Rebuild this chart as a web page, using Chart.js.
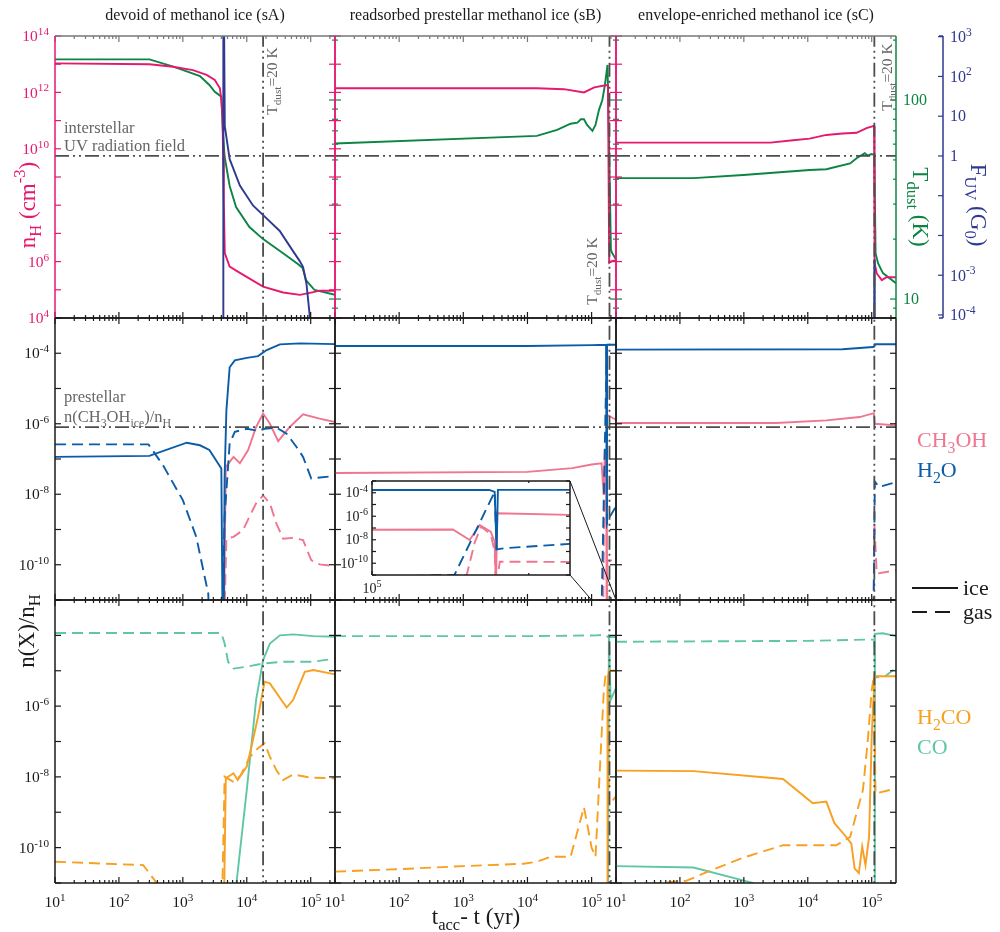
<!DOCTYPE html>
<html>
<head>
<meta charset="utf-8">
<script src="https://cdn.jsdelivr.net/npm/chart.js@4.4.0/dist/chart.umd.min.js"></script>
<style>
  body { margin: 0; background: #fff; width: 1000px; height: 932px; position: relative; overflow: hidden; }
  canvas { position: absolute; left: 0; top: 0; }
</style>
</head>
<body>
<script>
// ---- data: [t_acc - t (yr), value] ----
const T_MIN = 10, T_MAX = 2.4e5;
const tDust20 = [1.8e4, 1.9e5, 1.1e5];   // where T_dust = 20 K, per column
const fuvISRF = 1;                       // interstellar UV field (G0)
const ch3ohPrestellar = 8e-7;            // prestellar n(CH3OH_ice)/n_H

// sA - devoid of methanol ice
const sA_nH = [[10,1.07e13],[300,1e13],[700,8.1e12],[1440,6.2e12],[2350,4.2e12],[3160,2.75e12],[3800,1.4e12],[4000,5.5e11],[4170,1.4e11],[4250,9e9],[4370,1.5e8],[4530,2e6],[5400,6.6e5],[7800,4e5],[1.8e4,1.3e5],[3.7e4,8e4],[6.8e4,6.6e4],[1.1e5,8.3e4],[1.38e5,9.3e4],[2.4e5,9.3e4]];
const sA_T = [[10,160],[300,160],[710,147],[1850,132],[2600,119],[3160,110],[4000,104],[4250,68],[4500,52],[5400,37],[6800,29],[1.1e4,23],[1.8e4,20],[3.7e4,17],[6.3e4,15],[7.5e4,14.3],[8.5e4,12.4],[1.15e5,11.1],[2.4e5,10.5]];
const sA_F = [[10,1e-8],[4280,1e-8],[4300,1e6],[4530,5.6],[5400,0.83],[7800,0.18],[1.25e4,0.057],[2.04e4,0.027],[3.28e4,0.013],[5.26e4,0.0041],[6.7e4,0.0023],[7.6e4,0.0016],[8.6e4,6e-4],[9.6e4,1.07e-4],[1.05e5,1e-5],[2.4e5,1e-8]];
const sA_H2O_ice = [[10,1.15e-7],[300,1.23e-7],[1150,2.9e-7],[1850,2.45e-7],[2600,1.8e-7],[4000,5.4e-8],[4200,1e-12],[4350,1e-12],[4500,3e-8],[4800,2.4e-6],[5400,4e-5],[6500,6.3e-5],[1e4,7.4e-5],[1.5e4,8.3e-5],[2.05e4,1.23e-4],[3.3e4,1.78e-4],[6.8e4,1.9e-4],[2.4e5,1.82e-4]];
const sA_H2O_gas = [[10,2.6e-7],[290,2.6e-7],[490,6.6e-8],[1000,6.8e-9],[1620,6.2e-10],[2500,1.5e-11],[2700,1e-13],[4100,1e-13],[4170,1e-11],[4500,2.3e-9],[5400,2.75e-7],[6500,5.9e-7],[1e4,7.2e-7],[1.5e4,6.3e-7],[1.9e4,7.2e-7],[2.9e4,7.8e-7],[4.2e4,5.2e-7],[6e4,2.2e-7],[7.6e4,1.15e-7],[1.02e5,2.8e-8],[2.4e5,3.3e-8]];
const sA_CH3OH_ice = [[10,1e-14],[4300,1e-14],[4370,1e-12],[4700,6e-8],[6200,1.15e-7],[7800,7.6e-8],[1.05e4,1.8e-7],[1.4e4,8.1e-7],[1.8e4,1.95e-6],[2.3e4,1e-6],[3.1e4,3.2e-7],[4.7e4,8.1e-7],[7.6e4,1.86e-6],[1.38e5,1.4e-6],[2.4e5,1.12e-6]];
const sA_CH3OH_gas = [[10,1e-14],[4300,1e-14],[4400,1e-12],[4800,5.5e-10],[6200,6.2e-10],[8700,9.5e-10],[1.1e4,2.3e-9],[1.4e4,5.5e-9],[1.8e4,9.3e-9],[2.3e4,5.5e-9],[2.9e4,1.5e-9],[3.7e4,5.5e-10],[5.3e4,5.8e-10],[7.6e4,5e-10],[1.02e5,1.35e-10],[1.38e5,1.02e-10],[2.4e5,9.1e-11]];
const sA_CO_ice = [[10,1e-14],[6000,1e-14],[6900,1e-11],[1e4,4.3e-9],[1.4e4,1.5e-6],[1.8e4,2e-5],[2.3e4,5.9e-5],[3.3e4,1e-4],[5.3e4,1.07e-4],[1.1e5,9.5e-5],[2.4e5,9.1e-5]];
const sA_CO_gas = [[10,1.17e-4],[4000,1.17e-4],[4500,5.9e-5],[5100,1.8e-5],[6200,1.15e-5],[1e4,1.3e-5],[1.8e4,1.6e-5],[3.7e4,1.8e-5],[1.1e5,1.8e-5],[2.4e5,2.2e-5]];
const sA_H2CO_ice = [[10,1e-14],[4300,1e-14],[4370,1e-12],[4700,9.1e-9],[6200,1.26e-8],[7200,8.1e-9],[1e4,1.95e-8],[1.25e4,1.1e-7],[1.5e4,5e-7],[1.9e4,4.9e-6],[2.3e4,4.4e-6],[4.2e4,9.1e-7],[5.3e4,1.48e-6],[8.1e4,9.3e-6],[1.1e5,1.05e-5],[2.4e5,7.9e-6]];
const sA_H2CO_gas = [[10,4e-11],[240,3.2e-11],[390,1e-11],[500,1e-12],[4000,1e-13],[4170,1e-11],[4500,1.02e-8],[6200,7.2e-9],[8000,1.1e-8],[1.1e4,3.5e-8],[1.5e4,6.5e-8],[1.9e4,8.9e-8],[2.3e4,3.7e-8],[2.9e4,1.55e-8],[3.7e4,8.1e-9],[5.3e4,1.17e-8],[1e5,9.5e-9],[2.4e5,9.1e-9]];

// sB - readsorbed prestellar methanol ice
const sB_nH = [[10,1.4e12],[1.4e4,1.4e12],[3.7e4,1.3e12],[7.6e4,1.0e12],[1.1e5,1.5e12],[1.66e5,1.8e12],[1.8e5,1.8e12],[1.88e5,9e5],[2.1e5,1.05e6],[2.4e5,1.1e6]];
const sB_T = [[10,60.5],[1.4e4,66],[2.9e4,70.7],[4.7e4,76],[6e4,77],[6.8e4,80],[7.6e4,80],[8.5e4,75],[1.03e5,70],[1.15e5,75],[1.3e5,89],[1.47e5,100],[1.6e5,117],[1.77e5,150],[1.9e5,46],[2e5,17.6],[2.1e5,17],[2.4e5,15.8]];
const sB_H2O_ice = [[10,1.6e-4],[1e4,1.6e-4],[1e5,1.7e-4],[1.68e5,1.75e-4],[1.72e5,1.2e-4],[1.735e5,1.4e-9],[1.745e5,1.75e-4],[2.4e5,1.75e-4]];
const sB_H2O_gas = [[10,1e-15],[1.44e5,1e-11],[1.72e5,1.2e-4],[1.735e5,1.5e-9],[1.8e5,1.9e-9],[2.4e5,4.5e-9]];
const sB_CH3OH_ice = [[10,4e-8],[1e4,4.3e-8],[5e4,5.5e-8],[1e5,7e-8],[1.43e5,7.5e-8],[1.54e5,9.5e-9],[1.61e5,1.8e-7],[1.69e5,5e-8],[1.72e5,6.8e-9],[1.73e5,1e-12],[1.74e5,1.8e-6],[2.4e5,1.3e-6]];
const sB_CH3OH_gas = [[10,1e-15],[1.52e5,1e-11],[1.575e5,6e-9],[1.62e5,1.3e-7],[1.69e5,3e-8],[1.72e5,1e-9],[1.73e5,1e-12],[1.76e5,1.35e-10],[2.4e5,1.3e-10]];
const sB_CO_ice = [[10,1e-15],[1.8e5,1e-12],[1.86e5,1.1e-4],[1.98e5,1.5e-6],[2.4e5,3.2e-6]];
const sB_CO_gas = [[10,9.5e-5],[1e4,9.5e-5],[1.2e5,1e-4],[1.6e5,1.05e-4],[1.8e5,9e-5],[2.4e5,9e-5]];
const sB_H2CO_ice = [[10,1e-15],[1.74e5,1e-12],[1.77e5,3.9e-6],[1.85e5,1e-5],[2.4e5,1e-5]];
const sB_H2CO_gas = [[10,2.1e-11],[92,2.45e-11],[1e3,3e-11],[8.7e3,3.5e-11],[1.4e4,4e-11],[2.3e4,5.5e-11],[4.7e4,5.5e-11],[7.6e4,1.4e-9],[1e5,1e-10],[1.15e5,5.5e-11],[1.55e5,2.8e-6],[1.66e5,8.3e-6],[1.8e5,8.5e-6],[1.86e5,1.6e-9],[2.4e5,2.8e-9]];

// sC - envelope-enriched methanol ice
const sC_nH = [[10,1.66e10],[2.6e3,1.66e10],[5.9e3,2e10],[1.07e4,2.3e10],[1.95e4,3.1e10],[3.5e4,3.5e10],[5.8e4,3.7e10],[8.3e4,5.4e10],[1.09e5,6.5e10],[1.11e5,8.7e5],[1.2e5,3.8e5],[1.44e5,2.2e5],[1.7e5,2.8e5],[2.4e5,2.8e5]];
const sC_T = [[10,40.5],[163,40.5],[980,42],[1.07e4,44.5],[1.95e4,44.9],[4.6e4,48],[5.8e4,51],[7.8e4,54],[8.7e4,52.5],[9.9e4,53.5],[1.1e5,53],[1.15e5,17],[1.26e5,15.1],[1.5e5,13.5],[2.4e5,12]];
const sC_F = [[10,1e-8],[1.08e5,1e-8],[1.1e5,2.5e-3],[1.115e5,1e-8],[2.4e5,1e-8]];
const sC_H2O_ice = [[10,1.27e-4],[3.5e4,1.3e-4],[1.05e5,1.5e-4],[1.1e5,1.55e-4],[1.13e5,1.8e-4],[2.4e5,1.8e-4]];
const sC_H2O_gas = [[10,1e-15],[1.06e5,1e-12],[1.12e5,2.3e-8],[1.3e5,1.6e-8],[2.4e5,2.2e-8]];
const sC_CH3OH_ice = [[10,1.05e-6],[3.2e3,1.05e-6],[1.95e4,1.25e-6],[6.5e4,1.55e-6],[1.08e5,2e-6],[1.12e5,1e-6],[2.4e5,9e-7]];
const sC_CH3OH_gas = [[10,1e-15],[1.06e5,1e-12],[1.1e5,1.5e-9],[1.2e5,5.6e-11],[2.4e5,7e-11]];
const sC_CO_ice = [[10,3e-11],[163,2.75e-11],[1.4e3,1e-11],[3e3,1e-12],[1e5,1e-14],[1.09e5,1e-12],[1.12e5,1.1e-4],[1.5e5,1.15e-4],[2.4e5,9.5e-5]];
const sC_CO_gas = [[10,6.6e-5],[1e4,7e-5],[8e4,7.6e-5],[1.1e5,7.6e-5],[1.13e5,6.5e-6],[1.6e5,6.8e-6],[2.4e5,1.2e-5]];
const sC_H2CO_ice = [[10,1.5e-8],[163,1.45e-8],[4.1e3,8.7e-9],[1.2e4,1.8e-9],[1.95e4,2e-9],[2.6e4,5e-10],[4e4,2e-10],[4.8e4,1.3e-10],[5.4e4,2.6e-11],[6.3e4,1.9e-11],[7.1e4,1.07e-10],[8e4,3.2e-11],[9.1e4,2e-10],[1e5,1.35e-7],[1.05e5,1e-6],[1.12e5,7e-6],[2.4e5,7e-6]];
const sC_H2CO_gas = [[10,8e-12],[125,1.15e-11],[295,2.2e-11],[980,5.2e-11],[4.1e3,1.17e-10],[2.8e4,1.17e-10],[4.6e4,2e-10],[7.3e4,4.3e-9],[8.7e4,1.1e-7],[1e5,2.8e-6],[1.08e5,7e-6],[1.15e5,3.4e-9],[2.4e5,4.7e-9]];

// tick labels
const xTickVals = [1e1, 1e2, 1e3, 1e4, 1e5];
const nHLabelExp = [4, 6, 10, 12, 14];
const tdustLabels = [10, 100];
const fuvLabelExp = [-4, -3, 0, 1, 2, 3];
const midLabelExp = [-10, -8, -6, -4];
const botLabelExp = [-10, -8, -6];
const insetLabelExp = [-10, -8, -6, -4];

const titles = ['devoid of methanol ice (sA)', 'readsorbed prestellar methanol ice (sB)', 'envelope-enriched methanol ice (sC)'];

// ---- style ----
const NH = '#e5196f', TD = '#0c8443', FUV = '#2f3990', H2O = '#0b5ca8', CH3OH = '#ef7590', H2CO = '#f7a021', CO = '#5fc6a6';
const INK = '#1a1a1a', GRAY = '#4d4d4d', NOTE = '#666';
const DASH = [11, 6], DASH_DOT = [14, 4, 2, 4, 2, 4];
const SERIF = '"Liberation Serif", "Times New Roman", serif';
const W = 1000, H = 932;
const colL = [55, 335, 616], colW = [280, 281, 280];
const rowT = [36, 318, 600], rowH = [282, 282, 283];
const TICK_FONT = 15.5;

// text with ^{sup} and _{sub}; y is the middle of the text
function rich(ctx, str, x, y, o = {}) {
  const size = o.size || 15;
  const segs = [];
  str.replace(/([\^_])\{([^}]*)\}|([^\^_]+)/g, (m, k, t, p) => { segs.push(p !== undefined ? { t: p, k: '' } : { t: t, k: k }); return m; });
  ctx.save();
  ctx.translate(x, y);
  if (o.rot) ctx.rotate(o.rot);
  ctx.fillStyle = o.color || INK;
  ctx.textBaseline = 'alphabetic';
  ctx.textAlign = 'left';
  let w = 0;
  segs.forEach(s => { s.fs = s.k ? size * 0.72 : size; ctx.font = s.fs + 'px ' + SERIF; s.w = ctx.measureText(s.t).width; w += s.w; });
  let cx = o.align === 'right' ? -w : o.align === 'center' ? -w / 2 : 0;
  segs.forEach(s => {
    ctx.font = s.fs + 'px ' + SERIF;
    const dy = s.k === '^' ? -size * 0.4 : s.k === '_' ? size * 0.27 : 0;
    ctx.fillText(s.t, cx, size * 0.33 + dy);
    cx += s.w;
  });
  ctx.restore();
}

function logTicks(min, max) {
  const out = [];
  for (let e = Math.floor(Math.log10(min)); e <= Math.ceil(Math.log10(max)); e++)
    for (let m = 1; m < 10; m++) {
      const v = m * Math.pow(10, e);
      if (v >= min * 0.999 && v <= max * 1.001) out.push({ v, major: m === 1 });
    }
  return out;
}

function seg(ctx, x1, y1, x2, y2, c, w) {
  ctx.strokeStyle = c; ctx.lineWidth = w || 1.2;
  ctx.beginPath(); ctx.moveTo(x1, y1); ctx.lineTo(x2, y2); ctx.stroke();
}

function label(v, fmt) {
  if (fmt === 'num') return String(v);
  const e = Math.round(Math.log10(v));
  if (fmt === 'fuv' && e === 0) return '1';
  if (fmt === 'fuv' && e === 1) return '10';
  return '10^{' + e + '}';
}

// frame, inward ticks and tick labels of one panel
const frame = {
  id: 'frame',
  beforeDatasetsDraw(chart, args, o) {
    if (!o.white) return;
    const a = chart.chartArea;
    chart.ctx.fillStyle = '#fff';
    chart.ctx.fillRect(a.left, a.top, a.right - a.left, a.bottom - a.top);
  },
  afterDraw(chart, args, o) {
    const ctx = chart.ctx, a = chart.chartArea, sx = chart.scales.x;
    const tl = o.tick || 6;
    ctx.save();
    ctx.setLineDash([]);
    logTicks(sx.min, sx.max).forEach(t => {
      const px = sx.getPixelForValue(t.v), len = t.major ? tl : tl / 2;
      seg(ctx, px, a.bottom, px, a.bottom - len, INK);
      seg(ctx, px, a.top, px, a.top + len, o.topColor || INK);
    });
    (o.yTicks || []).forEach(yt => {
      const s = chart.scales[yt.id];
      logTicks(s.min, s.max).filter(t => t.major || yt.minor).forEach(t => {
        const py = s.getPixelForValue(t.v), len = t.major ? tl : tl / 2;
        if (yt.left) seg(ctx, a.left, py, a.left + len, py, yt.color);
        if (yt.right) seg(ctx, a.right, py, a.right - len, py, yt.color);
      });
    });
    const b = o.border || {};
    seg(ctx, a.left, a.top, a.right, a.top, b.top || INK, 1.5);
    seg(ctx, a.left, a.bottom, a.right, a.bottom, b.bottom || INK, 1.5);
    seg(ctx, a.left, a.top, a.left, a.bottom, b.left || INK, 1.5);
    seg(ctx, a.right, a.top, a.right, a.bottom, b.right || INK, 1.5);

    (o.yLabels || []).forEach(yl => {
      const s = chart.scales[yl.id];
      yl.vals.forEach(v => {
        const right = yl.side === 'right';
        rich(ctx, label(v, yl.fmt), right ? a.right + (yl.gap || 6) : a.left - (yl.gap || 6), s.getPixelForValue(v),
          { size: yl.size || TICK_FONT, color: yl.color, align: right ? 'left' : 'right' });
      });
    });
    (o.xLabels || []).forEach(v => {
      rich(ctx, label(v, 'pow'), sx.getPixelForValue(v), a.bottom + (o.xGap || 19), { size: o.xSize || TICK_FONT, align: 'center' });
    });
    if (o.fuv) {
      const s = chart.scales.yF, x0 = a.right + o.fuv.offset;
      seg(ctx, x0, a.top, x0, a.bottom, FUV, 1.5);
      seg(ctx, x0, a.top, x0 - 4, a.top, FUV, 1.5);
      seg(ctx, x0, a.bottom, x0 - 4, a.bottom, FUV, 1.5);
      logTicks(s.min, s.max).filter(t => t.major).forEach(t => {
        seg(ctx, x0, s.getPixelForValue(t.v), x0 - 5, s.getPixelForValue(t.v), FUV);
      });
      o.fuv.vals.forEach(v => rich(ctx, label(v, 'fuv'), x0 + 7, s.getPixelForValue(v), { size: 16, color: FUV }));
    }
    (o.connect || []).forEach(c => seg(ctx, c[0], c[1], c[2], c[3], INK, 1));
    ctx.restore();
  }
};

function ser(data, color, dashed, axis) {
  return {
    data: data.map(([x, y]) => ({ x, y })), borderColor: color, borderWidth: 1.9,
    borderDash: dashed ? DASH : [], pointRadius: 0, tension: 0, fill: false, clip: 0, yAxisID: axis || 'y'
  };
}
function refLine(data, axis) {
  return Object.assign(ser(data, GRAY, false, axis), { borderDash: DASH_DOT, borderWidth: 1.8 });
}

function makeChart(rect, datasets, scales, frameOpts, xr) {
  const cv = document.createElement('canvas');
  cv.width = W; cv.height = H;
  document.body.appendChild(cv);
  const [l, t, w, h] = rect;
  const range = xr || [T_MIN, T_MAX];
  return new Chart(cv, {
    type: 'line',
    data: { datasets },
    options: {
      responsive: false, animation: false, devicePixelRatio: 1, events: [],
      layout: { padding: { left: l, top: t, right: W - l - w, bottom: H - t - h } },
      plugins: { legend: { display: false }, tooltip: { enabled: false }, frame: frameOpts },
      scales: Object.assign({ x: { type: 'logarithmic', min: range[0], max: range[1], display: false } }, scales)
    },
    plugins: [frame]
  });
}

const logY = (min, max) => ({ type: 'logarithmic', min, max, display: false });
const pow = exps => exps.map(e => Math.pow(10, e));

// ---- top row: n_H, T_dust, F_UV ----
const topSeries = [[sA_nH, sA_T, sA_F], [sB_nH, sB_T, null], [sC_nH, sC_T, sC_F]];
topSeries.forEach(([nh, td, fuv], c) => {
  const ds = [
    refLine([[tDust20[c], 1e-30], [tDust20[c], 1e30]], 'y'),
    refLine([[T_MIN, fuvISRF], [T_MAX, fuvISRF]], 'yF')
  ];
  if (fuv) ds.push(ser(fuv, FUV, false, 'yF'));
  ds.push(ser(nh, NH, false, 'y'), ser(td, TD, false, 'yT'));
  makeChart([colL[c], rowT[0], colW[c], rowH[0]], ds,
    { y: logY(1e4, 1e14), yT: logY(8.03, 209.7), yF: logY(8.4e-5, 1.04e3) },
    {
      border: { left: NH, right: c === 2 ? TD : NH, top: '#777', bottom: INK }, topColor: '#777',
      yTicks: [{ id: 'y', color: NH, left: true, right: c < 2 }, { id: 'yT', color: TD, left: c > 0, right: true, minor: true }],
      yLabels: c === 0 ? [{ id: 'y', vals: pow(nHLabelExp), color: NH, side: 'left' }]
        : c === 2 ? [{ id: 'yT', vals: tdustLabels, color: TD, side: 'right', fmt: 'num', size: 16, gap: 7 }] : [],
      fuv: c === 2 ? { offset: 47, vals: pow(fuvLabelExp) } : null
    });
});

// ---- middle row: H2O, CH3OH ----
const midSeries = [
  [sA_H2O_ice, sA_H2O_gas, sA_CH3OH_ice, sA_CH3OH_gas],
  [sB_H2O_ice, sB_H2O_gas, sB_CH3OH_ice, sB_CH3OH_gas],
  [sC_H2O_ice, sC_H2O_gas, sC_CH3OH_ice, sC_CH3OH_gas]
];
let chartB = null;
midSeries.forEach(([wi, wg, mi, mg], c) => {
  const ch = makeChart([colL[c], rowT[1], colW[c], rowH[1]], [
    refLine([[tDust20[c], 1e-30], [tDust20[c], 1e30]]),
    refLine([[T_MIN, ch3ohPrestellar], [T_MAX, ch3ohPrestellar]]),
    ser(wi, H2O, false), ser(wg, H2O, true), ser(mi, CH3OH, false), ser(mg, CH3OH, true)
  ], { y: logY(1e-11, 1e-3) }, {
    yTicks: [{ id: 'y', color: INK, left: true, right: true }],
    yLabels: c === 0 ? [{ id: 'y', vals: pow(midLabelExp), color: INK, side: 'left' }] : []
  });
  if (c === 1) chartB = ch;
});

// ---- bottom row: H2CO, CO ----
const botSeries = [
  [sA_H2CO_ice, sA_H2CO_gas, sA_CO_ice, sA_CO_gas],
  [sB_H2CO_ice, sB_H2CO_gas, sB_CO_ice, sB_CO_gas],
  [sC_H2CO_ice, sC_H2CO_gas, sC_CO_ice, sC_CO_gas]
];
botSeries.forEach(([fi, fg, ci, cg], c) => {
  makeChart([colL[c], rowT[2], colW[c], rowH[2]], [
    refLine([[tDust20[c], 1e-30], [tDust20[c], 1e30]]),
    ser(fi, H2CO, false), ser(fg, H2CO, true), ser(ci, CO, false), ser(cg, CO, true)
  ], { y: logY(1e-11, 1e-3) }, {
    yTicks: [{ id: 'y', color: INK, left: true, right: true }],
    yLabels: c === 0 ? [{ id: 'y', vals: pow(botLabelExp), color: INK, side: 'left' }] : [],
    xLabels: xTickVals
  });
});

// ---- inset zoom of sB middle panel ----
const insetRange = [1e5, T_MAX];
const insetRect = [372, 481, 198, 94];
const bx = chartB.scales.x, bA = chartB.chartArea;
makeChart(insetRect, [
  ser(sB_H2O_ice, H2O, false), ser(sB_H2O_gas, H2O, true), ser(sB_CH3OH_ice, CH3OH, false), ser(sB_CH3OH_gas, CH3OH, true)
], { y: logY(1e-11, 1e-3) }, {
  white: true, tick: 4,
  yTicks: [{ id: 'y', color: INK, left: true, right: true }],
  yLabels: [{ id: 'y', vals: pow(insetLabelExp), color: INK, side: 'left', size: 14, gap: 4 }],
  xLabels: [insetRange[0]], xGap: 13, xSize: 14,
  connect: [
    [insetRect[0] + insetRect[2], insetRect[1], bx.getPixelForValue(insetRange[1]), bA.bottom],
    [insetRect[0] + insetRect[2], insetRect[1] + insetRect[3], bx.getPixelForValue(insetRange[0]), bA.bottom]
  ]
}, insetRange);

// ---- titles, axis titles, legends, notes ----
const ann = document.createElement('canvas');
ann.width = W; ann.height = H;
document.body.appendChild(ann);
const g = ann.getContext('2d');
titles.forEach((t, i) => rich(g, t, colL[i] + colW[i] / 2, 15, { size: 16, align: 'center' }));

rich(g, 'n_{H} (cm^{-3})', 27, 205, { size: 23, color: NH, align: 'center', rot: -Math.PI / 2 });
rich(g, 'n(X)/n_{H}', 26, 631, { size: 23, align: 'center', rot: -Math.PI / 2 });
rich(g, 'T_{dust} (K)', 921, 207, { size: 23, color: TD, align: 'center', rot: Math.PI / 2 });
rich(g, 'F_{UV} (G_{0})', 979, 205, { size: 23, color: FUV, align: 'center', rot: Math.PI / 2 });
rich(g, 't_{acc}- t (yr)', 476, 916, { size: 23, align: 'center' });

rich(g, 'interstellar', 64, 128, { size: 16.5, color: NOTE });
rich(g, 'UV radiation field', 64, 146, { size: 16.5, color: NOTE });
rich(g, 'prestellar', 64, 397, { size: 16.5, color: NOTE });
rich(g, 'n(CH_{3}OH_{ice})/n_{H}', 64, 417, { size: 16.5, color: NOTE });

rich(g, 'T_{dust}=20 K', 272, 81, { size: 15.5, color: NOTE, align: 'center', rot: -Math.PI / 2 });
rich(g, 'T_{dust}=20 K', 592, 271, { size: 15.5, color: NOTE, align: 'center', rot: -Math.PI / 2 });
rich(g, 'T_{dust}=20 K', 887, 77, { size: 15.5, color: NOTE, align: 'center', rot: -Math.PI / 2 });

rich(g, 'CH_{3}OH', 917, 440, { size: 22, color: CH3OH });
rich(g, 'H_{2}O', 917, 470, { size: 22, color: H2O });
rich(g, 'H_{2}CO', 917, 717, { size: 22, color: H2CO });
rich(g, 'CO', 917, 747, { size: 22, color: CO });

g.setLineDash([]);
seg(g, 912, 588, 958, 588, INK, 2);
g.setLineDash([15, 8]);
seg(g, 912, 612, 950, 612, INK, 2);
g.setLineDash([]);
rich(g, 'ice', 963, 588, { size: 22 });
rich(g, 'gas', 963, 612, { size: 22 });
</script>
</body>
</html>
